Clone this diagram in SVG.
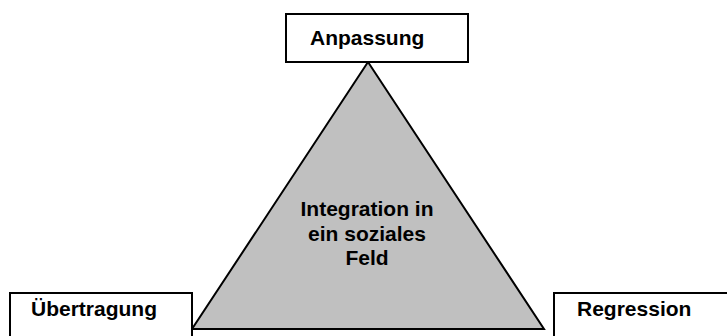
<svg xmlns="http://www.w3.org/2000/svg" width="727" height="336" viewBox="0 0 727 336">
<style>
.box{fill:#fff;stroke:#000;stroke-width:2}
.tri{fill:#c0c0c0;stroke:#000;stroke-width:2;stroke-linejoin:miter}
text{font-family:"Liberation Sans",Arial,sans-serif;font-weight:bold;font-size:21px;fill:#000}
</style>
<rect width="727" height="336" fill="#fff"/>
<g id="connectors"></g>
<g id="triangle">
<polygon class="tri" points="368,62 192,329 544,329"/>
<text x="367" y="216" text-anchor="middle">Integration in</text>
<text x="367" y="241" text-anchor="middle">ein soziales</text>
<text x="367" y="265" text-anchor="middle">Feld</text>
</g>
<g id="anpassung">
<rect class="box" x="286" y="14" width="182" height="48"/>
<text x="310" y="45">Anpassung</text>
</g>
<g id="uebertragung">
<rect class="box" x="10" y="293" width="182" height="50"/>
<text x="31" y="316">Übertragung</text>
</g>
<g id="regression">
<rect class="box" x="554" y="293" width="185" height="50"/>
<text x="577" y="316">Regression</text>
</g>
</svg>
